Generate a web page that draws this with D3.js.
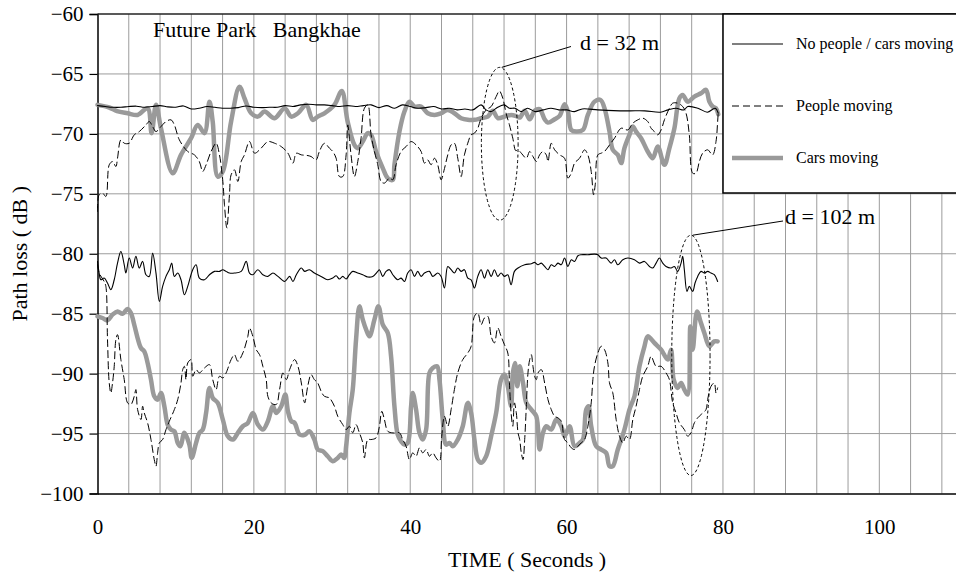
<!DOCTYPE html>
<html>
<head>
<meta charset="utf-8">
<script src="https://cdn.jsdelivr.net/npm/d3@7"></script>
<style>
  html, body { margin: 0; padding: 0; background: #fff; }
  svg { display: block; }
  svg text { font-family: "Liberation Serif", "Times New Roman", serif; fill: #000; }
</style>
</head>
<body>
<svg id="chart" width="956" height="576"></svg>
<script>
// Path loss measurements, Future Park Bangkhae: [time (s), path loss (dB)]
const xTicks = [0, 20, 40, 60, 80, 100];
const yTicks = [-60, -65, -70, -75, -80, -85, -90, -95, -100];

const seriesNames = ["No people / cars moving", "People moving", "Cars moving"];

// d = 32 m
const noPeople32 = [
  [0,-67.64],[1,-67.72],[2,-67.78],[3,-67.78],[4,-67.72],[5,-67.69],[6,-67.78],[7,-67.72],[8,-67.64],[9,-67.75],
  [10,-67.78],[11,-67.67],[12,-67.92],[13,-67.86],[14,-67.72],[15,-67.78],[16,-67.86],[17,-67.86],[18,-67.81],[19,-67.67],
  [20,-67.78],[21,-67.81],[22,-67.78],[23,-67.78],[24,-67.64],[25,-67.72],[26,-67.58],[27,-67.53],[28,-67.58],[29,-67.58],
  [30,-67.64],[31,-67.72],[32,-67.64],[33,-67.72],[34,-67.64],[35,-67.58],[36,-67.81],[37,-67.64],[38,-67.86],[39,-67.58],
  [40,-67.72],[41,-67.86],[42,-67.81],[43,-67.72],[44,-67.92],[45,-67.86],[46,-68.0],[47,-67.92],[48,-68.0],[49.07,-67.58],
  [49.7,-68.0],[50.35,-68.14],[51,-67.86],[52,-67.58],[52.7,-67.86],[53.4,-67.86],[54.2,-68.14],[55,-67.86],[56,-68.14],[57,-68.0],
  [58,-67.86],[59,-68.0],[60,-68.0],[61,-68.14],[62,-67.92],[64,-68.0],[66,-68.06],[68,-68.08],[70,-68.08],[72,-68.19],
  [73,-68.0],[74,-67.86],[75,-68.0],[75.5,-67.72],[76.8,-67.86],[78,-68.19],[79,-67.86],[79.4,-68.28]
];

const people32 = [
  [0,-76.47],[0.21,-75.08],[0.64,-74.94],[1.07,-75.22],[1.5,-72.58],[1.92,-72.31],[2.35,-72.72],[2.56,-72.03],[2.99,-70.5],[3.42,-70.78],
  [4.06,-70.78],[4.7,-70.08],[5.34,-69.81],[6.2,-69.25],[6.62,-68.97],[7.05,-69.39],[7.48,-69.81],[8.12,-69.39],[8.76,-68.97],[9.4,-68.83],
  [9.83,-69.25],[10.47,-70.5],[11.54,-71.47],[12.39,-71.75],[13.03,-72.31],[13.46,-73.14],[13.89,-72.58],[14.53,-71.47],[15.17,-70.78],[15.6,-71.75],
  [16.03,-73.97],[16.24,-75.92],[16.54,-77.86],[16.88,-75.08],[17.09,-73.42],[17.52,-73.0],[17.95,-73.97],[18.38,-72.31],[18.8,-71.75],[19.44,-70.64],
  [20.09,-71.61],[20.94,-71.19],[21.79,-70.64],[22.65,-70.78],[23.5,-71.06],[24.36,-71.61],[25.0,-72.44],[25.43,-71.61],[26.07,-71.75],[26.8,-71.8],
  [27.32,-71.89],[27.96,-72.17],[28.38,-71.47],[29.02,-70.78],[29.66,-71.19],[30.09,-71.47],[30.52,-72.03],[30.94,-73.56],[31.37,-73.56],[31.8,-71.75],
  [32.01,-69.25],[32.22,-70.36],[32.43,-71.75],[32.86,-73.56],[33.29,-72.31],[33.71,-70.36],[34.14,-67.86],[34.57,-67.58],[34.99,-70.08],[35.42,-71.47],
  [35.85,-72.58],[36.27,-73.97],[36.7,-74.11],[37.34,-73.69],[37.77,-73.83],[38.19,-72.58],[38.83,-71.47],[39.47,-71.06],[40.11,-70.64],[40.75,-70.92],
  [41.39,-71.47],[41.82,-72.44],[42.24,-72.17],[42.67,-72.58],[43.1,-72.03],[43.52,-72.58],[43.95,-73.83],[44.38,-72.89],[44.8,-71.75],[45.23,-70.92],
  [45.65,-70.78],[46.08,-72.03],[46.51,-73.56],[46.93,-71.75],[47.36,-70.78],[47.79,-70.08],[48.21,-69.94],[48.64,-69.53],[49.07,-68.69],[49.71,-68.0],
  [50.35,-67.72],[50.99,-66.89],[51.41,-66.42],[51.84,-67.03],[52.26,-68.28],[52.69,-69.25],[53.12,-70.36],[53.5,-71.4],[53.79,-71.33],[54.21,-71.61],
  [54.85,-72.03],[55.28,-71.47],[55.7,-71.89],[56.13,-72.31],[56.55,-71.75],[56.98,-71.47],[57.4,-71.75],[57.62,-72.31],[58.04,-70.78],[58.47,-71.33],
  [59.11,-71.75],[59.74,-72.03],[60.17,-73.69],[60.6,-73.28],[61.02,-72.44],[61.66,-72.03],[62.3,-71.33],[62.72,-71.75],[63.15,-73.14],[63.45,-75.08],
  [63.66,-74.25],[64.0,-71.75],[64.43,-71.61],[64.85,-71.47],[65.49,-70.92],[66.13,-70.36],[66.98,-69.53],[67.83,-69.67],[68.47,-69.11],[69.11,-68.83],
  [69.74,-68.69],[70.38,-68.97],[70.81,-69.53],[71.23,-69.81],[71.66,-70.08],[72.09,-69.67],[72.51,-68.83],[73.15,-67.86],[73.57,-67.44],[74.21,-67.44],
  [74.85,-67.72],[75.28,-68.28],[75.7,-70.08],[76.13,-73.28],[76.55,-73.28],[76.98,-72.31],[77.4,-71.61],[78.04,-71.33],[78.68,-71.75],[79.11,-70.64],
  [79.32,-68.97],[79.4,-68.14]
];

const cars32 = [
  [0,-67.58],[1.5,-67.8],[2.5,-68.1],[3.85,-68.28],[5.13,-68.42],[6.41,-67.86],[6.92,-69.94],[7.48,-67.58],[8.12,-69.53],[9.62,-73.28],
  [10.68,-71.75],[11.97,-70.36],[12.82,-69.25],[13.68,-69.94],[14.32,-67.31],[14.74,-69.0],[15.38,-73.56],[16.03,-73.14],[17.09,-68.97],[18.16,-66.06],
  [18.8,-67.03],[19.66,-68.28],[20.51,-68.56],[21.37,-68.14],[22.65,-68.69],[23.93,-67.86],[24.79,-68.56],[25.64,-68.28],[26.7,-67.58],[27.53,-68.83],
  [28.17,-68.56],[29.02,-68.28],[30.3,-67.58],[31.24,-66.42],[32.0,-69.0],[32.86,-70.92],[33.29,-71.19],[33.93,-70.64],[34.57,-69.94],[34.99,-70.08],
  [35.63,-71.47],[36.49,-72.86],[37.13,-73.69],[37.77,-73.83],[37.98,-72.58],[38.62,-69.81],[39.26,-68.14],[39.9,-67.31],[40.54,-67.72],[41.39,-67.72],
  [42.24,-68.28],[43.1,-68.42],[43.95,-68.28],[44.8,-68.0],[45.65,-68.28],[46.51,-68.69],[47.36,-68.83],[48.21,-68.83],[49.07,-68.69],[49.92,-68.56],
  [50.56,-68.08],[51.2,-68.69],[52.05,-68.56],[52.9,-68.42],[53.5,-68.5],[54.0,-68.64],[54.64,-68.08],[55.28,-68.78],[55.91,-68.08],[56.55,-67.94],
  [57.19,-68.78],[57.62,-69.06],[58.47,-68.78],[59.11,-68.5],[59.74,-67.53],[60.17,-68.14],[60.6,-69.67],[61.23,-69.81],[62.09,-69.67],[62.72,-68.42],
  [63.57,-67.31],[64.34,-67.17],[64.85,-67.86],[65.49,-69.81],[65.91,-71.33],[66.55,-71.75],[66.98,-72.44],[67.4,-71.19],[68.04,-70.08],[68.47,-69.39],
  [68.89,-69.81],[69.53,-70.36],[70.38,-71.47],[71.02,-72.03],[71.66,-71.06],[72.51,-72.58],[73.15,-71.19],[73.79,-69.53],[74.43,-67.03],[74.85,-66.75],
  [75.49,-67.31],[76.34,-66.89],[77.19,-66.61],[77.83,-66.33],[78.26,-67.31],[78.68,-67.72],[79.11,-67.86],[79.4,-68.36]
];

// d = 102 m
const noPeople102 = [
  [0,-80.64],[0.21,-81.61],[0.43,-82.17],[0.85,-82.03],[1.28,-82.44],[1.71,-83.0],[2.14,-82.17],[2.56,-80.78],[2.99,-79.81],[3.42,-80.92],
  [3.63,-81.61],[4.06,-80.36],[4.49,-81.19],[4.91,-80.22],[5.34,-81.19],[5.77,-80.64],[6.2,-81.75],[6.62,-81.89],[7.05,-79.94],[7.48,-81.61],
  [7.91,-83.97],[8.33,-82.72],[8.76,-81.89],[9.19,-81.33],[9.49,-80.78],[9.83,-81.89],[10.26,-81.61],[10.68,-82.17],[11.11,-83.42],[11.54,-82.72],
  [12.18,-81.33],[12.61,-80.92],[13.03,-82.03],[13.68,-82.17],[14.32,-81.75],[14.96,-81.47],[15.6,-81.47],[16.03,-81.33],[16.45,-81.47],[16.88,-81.61],
  [17.52,-81.61],[18.38,-81.47],[19.02,-80.64],[19.44,-81.61],[19.87,-81.75],[20.51,-81.33],[21.15,-81.75],[21.79,-81.89],[22.44,-81.61],[23.08,-81.89],
  [23.93,-82.31],[24.57,-81.89],[25.0,-82.31],[25.43,-81.75],[26.07,-81.19],[26.5,-81.47],[27.1,-81.33],[27.74,-81.61],[28.6,-81.89],[29.45,-82.17],
  [30.09,-82.03],[30.52,-81.83],[30.94,-82.11],[31.37,-81.89],[31.8,-82.11],[32.22,-81.75],[32.65,-81.47],[33.29,-81.61],[33.93,-81.75],[34.57,-81.94],
  [35.21,-81.89],[35.85,-81.47],[36.06,-81.33],[36.49,-81.89],[36.91,-81.47],[37.34,-81.33],[37.77,-81.75],[38.4,-82.17],[38.83,-82.03],[39.26,-82.31],
  [39.68,-81.61],[40.11,-81.33],[40.54,-81.89],[40.96,-81.47],[41.39,-81.89],[41.82,-81.61],[42.46,-81.47],[42.88,-81.89],[43.52,-81.61],[43.95,-81.89],
  [44.38,-82.86],[44.8,-81.06],[45.23,-81.33],[45.65,-81.61],[46.08,-81.19],[46.51,-81.47],[46.93,-81.33],[47.36,-82.03],[47.79,-82.17],[48.21,-82.86],
  [48.64,-81.89],[49.07,-81.33],[49.49,-82.03],[49.92,-81.33],[50.35,-81.89],[50.77,-81.33],[51.2,-81.89],[51.62,-81.61],[52.05,-81.89],[52.48,-81.75],
  [52.9,-82.58],[53.33,-81.47],[53.79,-81.19],[54.64,-80.92],[55.49,-80.83],[55.91,-80.72],[56.34,-80.92],[56.77,-80.78],[57.19,-81.06],[57.62,-81.33],
  [58.04,-80.92],[58.47,-81.06],[58.89,-80.78],[59.32,-80.92],[59.74,-80.36],[60.17,-81.06],[60.6,-80.5],[61.02,-80.64],[61.45,-80.17],[61.87,-80.08],
  [62.72,-80.08],[63.57,-80.03],[64.0,-80.08],[64.43,-80.36],[65.06,-80.36],[65.7,-80.78],[66.13,-80.5],[66.55,-80.92],[67.19,-80.5],[67.83,-80.36],
  [68.68,-80.5],[69.32,-80.78],[69.96,-80.64],[70.6,-81.06],[71.02,-81.19],[71.45,-80.78],[71.87,-80.36],[72.3,-80.78],[72.72,-81.06],[73.36,-81.19],
  [73.79,-81.06],[74.21,-81.47],[74.64,-80.78],[74.85,-80.22],[75.06,-81.33],[75.4,-83.14],[75.7,-82.72],[76.13,-83.14],[76.43,-82.44],[76.77,-81.89],
  [77.19,-81.47],[77.62,-81.61],[78.04,-81.47],[78.47,-81.61],[78.89,-81.75],[79.32,-82.31]
];

const people102 = [
  [0,-80.9],[0.21,-81.61],[0.85,-82.31],[1.07,-82.72],[1.28,-87.17],[1.5,-90.78],[1.71,-91.61],[1.92,-90.78],[2.14,-89.39],[2.35,-87.17],
  [2.56,-86.75],[2.99,-88.83],[3.42,-90.5],[3.85,-92.44],[4.27,-92.58],[4.7,-91.89],[4.91,-91.33],[5.13,-93.0],[5.56,-93.83],[5.77,-92.72],
  [5.98,-93.28],[6.41,-94.11],[6.84,-95.5],[7.26,-97.17],[7.48,-97.72],[7.69,-96.61],[7.91,-95.78],[8.33,-95.5],[8.76,-94.67],[9.19,-93.97],
  [9.83,-93.0],[10.26,-92.17],[10.68,-90.78],[10.9,-89.67],[11.11,-89.39],[11.32,-90.5],[11.54,-89.11],[11.97,-88.83],[12.18,-90.22],[12.61,-89.67],
  [13.03,-89.94],[13.68,-89.53],[14.32,-89.25],[14.74,-90.5],[15.17,-91.33],[15.6,-90.22],[16.03,-90.36],[16.45,-89.94],[17.09,-88.83],[17.52,-88.42],
  [17.95,-88.97],[18.59,-88.28],[19.23,-86.89],[19.44,-86.19],[19.87,-86.89],[20.3,-88.0],[20.73,-88.42],[21.15,-89.39],[21.58,-90.5],[21.79,-91.89],
  [22.22,-92.44],[22.86,-92.58],[23.29,-91.33],[23.72,-89.94],[24.15,-90.5],[24.57,-89.67],[25.21,-88.83],[25.64,-89.39],[26.07,-90.78],[26.5,-92.44],
  [26.89,-91.06],[27.32,-90.08],[27.74,-90.5],[28.17,-90.78],[28.6,-91.47],[29.02,-91.89],[29.66,-92.03],[30.3,-92.72],[30.73,-93.56],[31.37,-94.25],
  [31.8,-94.67],[32.22,-94.39],[32.65,-94.94],[33.07,-94.25],[33.5,-94.94],[33.93,-95.78],[34.14,-97.03],[34.57,-95.5],[34.99,-95.5],[35.63,-95.36],
  [36.06,-94.39],[36.36,-93.14],[36.7,-93.83],[37.13,-94.81],[37.77,-94.94],[38.62,-94.94],[39.04,-95.5],[39.47,-96.06],[39.9,-97.17],[40.32,-96.61],
  [40.75,-96.89],[41.18,-96.19],[41.6,-96.61],[42.03,-96.33],[42.46,-96.89],[42.88,-96.61],[43.31,-97.03],[43.74,-97.31],[44.03,-95.22],[44.38,-93.56],
  [44.8,-94.39],[45.23,-93.0],[45.65,-91.33],[46.08,-89.94],[46.72,-88.83],[47.36,-88.28],[47.79,-87.72],[48.21,-85.22],[48.64,-84.94],[49.07,-85.92],
  [49.49,-85.36],[49.92,-85.22],[50.35,-86.89],[50.77,-87.44],[51.2,-86.19],[51.62,-86.89],[52.05,-87.58],[52.48,-88.28],[52.69,-90.78],[52.9,-93.28],
  [53.12,-94.39],[53.33,-92.44],[53.57,-93.28],[53.79,-94.94],[54.0,-95.5],[54.21,-96.61],[54.43,-97.17],[54.64,-95.5],[54.85,-92.72],[55.06,-89.94],
  [55.28,-88.83],[55.49,-88.42],[55.7,-89.39],[55.91,-90.22],[56.13,-90.5],[56.34,-89.94],[56.77,-89.67],[57.19,-90.78],[57.62,-92.17],[58.04,-93.0],
  [58.47,-93.56],[58.89,-93.69],[59.32,-93.97],[59.74,-95.5],[60.17,-95.78],[60.6,-96.19],[61.02,-96.33],[61.45,-96.06],[61.87,-95.78],[62.3,-95.5],
  [62.72,-94.39],[63.15,-92.44],[63.36,-90.5],[63.57,-89.39],[64.0,-88.28],[64.43,-87.72],[64.85,-88.0],[65.28,-89.11],[65.49,-90.78],[65.91,-91.61],
  [66.34,-93.83],[66.77,-95.22],[67.19,-95.78],[67.62,-95.22],[68.04,-95.5],[68.47,-93.83],[68.89,-92.72],[69.32,-91.33],[69.74,-90.22],[70.38,-89.39],
  [70.81,-88.56],[71.45,-89.39],[72.09,-89.39],[72.72,-89.94],[73.15,-90.5],[73.57,-92.44],[74.0,-93.28],[74.43,-94.11],[75.06,-94.67],[75.49,-95.22],
  [75.91,-94.94],[76.34,-94.11],[76.77,-93.69],[77.19,-93.42],[77.83,-93.0],[78.04,-92.17],[78.47,-91.06],[78.89,-90.78],[79.11,-91.61],[79.32,-91.19]
];

const cars102 = [
  [0,-85.22],[0.64,-85.36],[1.28,-85.56],[1.92,-85.08],[2.56,-84.81],[3.21,-85.0],[3.85,-84.61],[4.27,-84.94],[4.7,-85.92],[5.13,-87.03],
  [5.56,-87.86],[5.98,-88.14],[6.41,-89.11],[6.84,-90.5],[7.26,-91.89],[7.69,-92.17],[8.12,-91.61],[8.55,-92.72],[8.97,-94.25],[9.4,-94.67],
  [9.83,-94.81],[10.26,-95.78],[10.6,-96.06],[11.11,-94.94],[11.75,-95.92],[12.05,-97.03],[12.61,-95.78],[13.03,-94.94],[13.46,-94.67],[13.89,-93.28],
  [14.32,-91.19],[14.74,-92.03],[15.38,-92.44],[16.03,-93.83],[16.67,-95.22],[17.31,-95.5],[17.95,-94.94],[18.59,-94.39],[19.23,-94.11],[19.87,-93.28],
  [20.51,-94.25],[21.15,-94.67],[21.79,-93.97],[22.44,-92.72],[22.86,-93.28],[23.5,-92.72],[24.02,-91.75],[24.36,-93.14],[24.79,-93.97],[25.21,-94.11],
  [25.85,-95.08],[26.5,-95.1],[27.1,-94.81],[27.74,-95.5],[28.17,-96.33],[28.81,-96.47],[29.45,-96.89],[30.09,-97.31],[30.73,-97.03],[31.16,-96.75],
  [31.58,-97.03],[31.8,-96.06],[32.22,-93.28],[32.65,-91.33],[33.07,-87.17],[33.5,-84.39],[33.93,-85.5],[34.36,-86.33],[34.78,-86.89],[35.42,-85.5],
  [35.93,-84.39],[36.49,-85.92],[37.13,-86.61],[37.55,-88.56],[37.98,-92.72],[38.4,-95.08],[38.83,-95.64],[39.26,-95.92],[39.68,-95.78],[40.11,-92.72],
  [40.32,-91.61],[40.75,-93.0],[41.18,-94.94],[41.6,-95.5],[42.03,-94.67],[42.46,-89.94],[42.88,-89.53],[43.44,-89.39],[43.74,-90.5],[44.16,-93.83],
  [44.59,-95.92],[45.02,-95.78],[45.44,-96.06],[46.08,-95.5],[46.72,-94.39],[47.36,-92.44],[47.79,-93.28],[48.21,-95.5],[48.64,-97.17],[49.07,-97.44],
  [49.71,-96.89],[50.35,-95.22],[50.99,-93.28],[51.62,-90.5],[52.05,-90.08],[52.48,-91.06],[52.9,-92.72],[53.12,-90.0],[53.4,-89.11],[53.7,-91.06],
  [54.0,-89.39],[54.43,-90.78],[54.85,-92.44],[55.49,-93.0],[56.13,-93.56],[56.55,-96.33],[56.98,-94.94],[57.4,-94.39],[58.04,-94.67],[58.68,-93.83],
  [59.32,-94.39],[59.74,-95.22],[60.38,-94.39],[61.02,-96.06],[61.66,-95.78],[62.09,-95.5],[62.51,-93.0],[62.81,-92.72],[63.15,-94.39],[63.79,-96.06],
  [64.43,-96.33],[65.06,-96.61],[65.49,-97.72],[65.91,-97.72],[66.55,-96.33],[67.4,-94.67],[68.04,-93.0],[68.68,-91.89],[69.32,-89.39],[69.96,-87.72],
  [70.38,-86.89],[71.23,-87.44],[72.09,-88.0],[72.94,-88.83],[73.36,-88.0],[73.7,-90.5],[74.21,-91.19],[74.64,-90.78],[75.06,-91.33],[75.49,-91.75],
  [75.83,-86.06],[76.13,-88.0],[76.68,-84.81],[77.19,-85.78],[77.62,-86.61],[78.26,-87.72],[78.89,-87.31],[79.32,-87.31]
];

const SERIF = '"Liberation Serif", "Times New Roman", serif';
const svg = d3.select("#chart");
const W = 956;

const x = d3.scaleLinear().domain([0, 110]).range([97.5, 957.5]);
const y = d3.scaleLinear().domain([-100, -60]).range([493.5, 14]);

// grid
const grid = svg.append("g").attr("class", "grid");
grid.selectAll("line.v")
  .data(d3.range(4, 112, 4))
  .join("line")
  .attr("x1", d => x(d)).attr("x2", d => x(d))
  .attr("y1", y(-60)).attr("y2", y(-100))
  .attr("stroke", "#9c9c9c").attr("stroke-width", 1);
grid.selectAll("line.h")
  .data(yTicks.filter(v => v > -100 && v < -60))
  .join("line")
  .attr("x1", x(0)).attr("x2", W)
  .attr("y1", d => y(d)).attr("y2", d => y(d))
  .attr("stroke", "#9c9c9c").attr("stroke-width", 1);

// axes
const yAxis = d3.axisLeft(y).tickValues(yTicks).tickSize(8).tickPadding(6).tickFormat(d3.format("d"));
const yG = svg.append("g").attr("transform", `translate(${x(0)},0)`).call(yAxis)
  .attr("font-family", SERIF).attr("font-size", 21);
yG.select(".domain").attr("stroke", "#000").attr("stroke-width", 1.5);
yG.selectAll(".tick line").attr("stroke", "#000").attr("stroke-width", 1.2);
yG.selectAll(".tick text").attr("fill", "#000");

const xAxis = d3.axisBottom(x).tickValues(xTicks).tickSize(0).tickPadding(26).tickFormat(d3.format("d"));
const xG = svg.append("g").attr("transform", `translate(0,${y(-100)})`).call(xAxis)
  .attr("font-family", SERIF).attr("font-size", 21);
xG.select(".domain").attr("stroke", "#000").attr("stroke-width", 1.5);
xG.selectAll(".tick text").attr("fill", "#000");

// top frame
svg.append("line")
  .attr("x1", x(0)).attr("x2", W).attr("y1", y(-60)).attr("y2", y(-60))
  .attr("stroke", "#222").attr("stroke-width", 1.5);

// axis titles
svg.append("text")
  .attr("x", 527).attr("y", 567)
  .attr("text-anchor", "middle")
  .attr("font-family", SERIF).attr("font-size", 22)
  .text("TIME ( Seconds )");
svg.append("text")
  .attr("transform", `translate(27,${(y(-60) + y(-100)) / 2}) rotate(-90)`)
  .attr("text-anchor", "middle")
  .attr("font-family", SERIF).attr("font-size", 22)
  .text("Path loss ( dB )");

// chart title
svg.append("text")
  .attr("x", 153).attr("y", 37)
  .attr("font-family", SERIF).attr("font-size", 22)
  .style("white-space", "pre")
  .text("Future Park   Bangkhae");

// series
const line = d3.line()
  .x(d => x(d[0]))
  .y(d => y(d[1]))
  .curve(d3.curveCatmullRom.alpha(0.5));

const styles = {
  cars: { stroke: "#9a9a9a", width: 4.5, dash: null },
  people: { stroke: "#000", width: 1, dash: "7,4" },
  none: { stroke: "#000", width: 1.1, dash: null }
};

const seriesList = [
  { data: cars32, s: styles.cars },
  { data: cars102, s: styles.cars },
  { data: people32, s: styles.people },
  { data: people102, s: styles.people },
  { data: noPeople32, s: styles.none },
  { data: noPeople102, s: styles.none }
];

svg.append("g").selectAll("path")
  .data(seriesList)
  .join("path")
  .attr("d", d => line(d.data))
  .attr("fill", "none")
  .attr("stroke", d => d.s.stroke)
  .attr("stroke-width", d => d.s.width)
  .attr("stroke-dasharray", d => d.s.dash)
  .attr("stroke-linejoin", "round")
  .attr("stroke-linecap", "round");

// annotations: dashed ellipses with leader lines
const notes = [
  { label: "d = 32 m", t: 51.45, lo: -77.2, hi: -64.45, half: 2.35, tx: 580, ty: 50, lx: 571, ly: 46.5 },
  { label: "d = 102 m", t: 75.9, lo: -98.5, hi: -78.45, half: 2.45, tx: 785, ty: 224, lx: 783, ly: 221 }
];
const ann = svg.append("g");
notes.forEach(n => {
  const cx = x(n.t), cy = (y(n.lo) + y(n.hi)) / 2;
  ann.append("ellipse")
    .attr("cx", cx).attr("cy", cy)
    .attr("rx", x(n.t + n.half) - cx)
    .attr("ry", (y(n.lo) - y(n.hi)) / 2)
    .attr("fill", "none").attr("stroke", "#000")
    .attr("stroke-width", 1).attr("stroke-dasharray", "3,2.5");
  ann.append("line")
    .attr("x1", cx + 2).attr("y1", y(n.hi))
    .attr("x2", n.lx).attr("y2", n.ly)
    .attr("stroke", "#000").attr("stroke-width", 1);
  ann.append("text")
    .attr("x", n.tx).attr("y", n.ty)
    .attr("font-family", SERIF).attr("font-size", 22)
    .text(n.label);
});

// legend
const lg = svg.append("g");
lg.append("rect")
  .attr("x", 723).attr("y", y(-60))
  .attr("width", 260).attr("height", 179)
  .attr("fill", "#fff").attr("stroke", "#000").attr("stroke-width", 1.5);
const legendItems = [
  { name: seriesNames[0], s: styles.none, yy: 44 },
  { name: seriesNames[1], s: styles.people, yy: 106 },
  { name: seriesNames[2], s: styles.cars, yy: 158 }
];
legendItems.forEach(it => {
  lg.append("line")
    .attr("x1", 732).attr("x2", 783)
    .attr("y1", it.yy).attr("y2", it.yy)
    .attr("stroke", it.s.stroke)
    .attr("stroke-width", it.s.width)
    .attr("stroke-dasharray", it.s.dash);
  lg.append("text")
    .attr("x", 796).attr("y", it.yy + 5)
    .attr("font-family", SERIF).attr("font-size", 16)
    .text(it.name);
});
</script>
</body>
</html>
